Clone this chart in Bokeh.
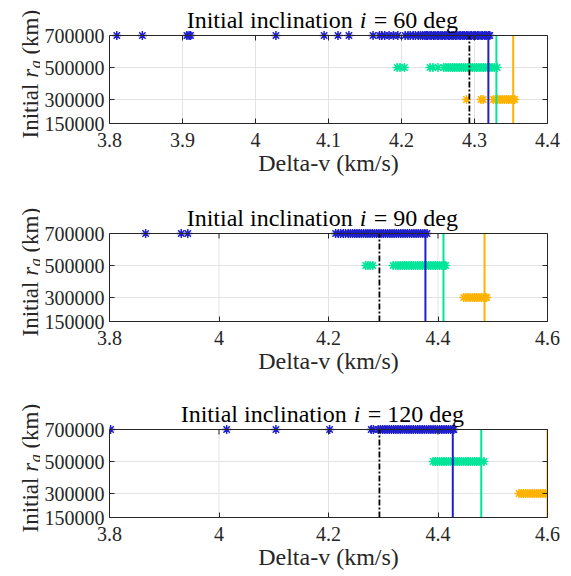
import math
from bokeh.plotting import figure
from bokeh.models import Range1d, FixedTicker, LinearAxis, Label
from bokeh.layouts import column, row
from bokeh.embed import file_html
from bokeh.resources import INLINE

# ---------------- data ----------------
r_levels = [700000, 500000, 300000]          # initial r_a (km) for blue, green, orange
y_ticks = [150000, 300000, 500000, 700000]
y_tick_labels = ["150000", "300000", "500000", "700000"]
y_min, y_max = 150000, 700000
x_min = 3.8

x_ticks_60 = [3.8, 3.9, 4.0, 4.1, 4.2, 4.3, 4.4]
x_tick_labels_60 = ["3.8", "3.9", "4", "4.1", "4.2", "4.3", "4.4"]
x_ticks_wide = [3.8, 4.0, 4.2, 4.4, 4.6]
x_tick_labels_wide = ["3.8", "4", "4.2", "4.4", "4.6"]

inclinations = ["60", "90", "120"]
dv_ref = 4.293   # black dash-dot reference

# i = 60 deg
dv60_blue = [3.810, 3.845, 3.906, 3.909, 3.911, 4.028, 4.094, 4.113, 4.128, 4.161,
             4.170, 4.173, 4.177, 4.183, 4.189, 4.195, 4.205, 4.209, 4.212, 4.216,
             4.219, 4.223, 4.226, 4.229, 4.232, 4.234, 4.236, 4.239, 4.241, 4.244,
             4.246, 4.249, 4.251, 4.254, 4.256, 4.259, 4.261, 4.264, 4.266, 4.269,
             4.271, 4.274, 4.276, 4.279, 4.281, 4.284, 4.286, 4.289, 4.291, 4.294,
             4.296, 4.299, 4.301, 4.304, 4.306, 4.309, 4.311, 4.314, 4.316, 4.319, 4.321]
dv60_green = [4.194, 4.198, 4.204, 4.239, 4.243, 4.250, 4.258, 4.261, 4.264, 4.267,
              4.270, 4.273, 4.276, 4.279, 4.282, 4.285, 4.288, 4.291, 4.294, 4.297,
              4.300, 4.303, 4.306, 4.309, 4.312, 4.315, 4.318, 4.321, 4.324, 4.327, 4.331]
dv60_orange = [4.289, 4.309, 4.312, 4.326, 4.329, 4.332, 4.335, 4.338, 4.341, 4.344,
               4.347, 4.350, 4.353, 4.355]
vlines_60 = [4.319, 4.330, 4.353]

# i = 90 deg
dv90_blue = [3.866, 3.931, 3.943, 4.213, 4.218, 4.222, 4.227, 4.231, 4.236, 4.240,
             4.244, 4.248, 4.252, 4.256, 4.260, 4.264, 4.268, 4.272, 4.276, 4.280,
             4.284, 4.288, 4.292, 4.296, 4.300, 4.304, 4.308, 4.312, 4.316, 4.320,
             4.324, 4.328, 4.332, 4.336, 4.340, 4.344, 4.348, 4.352, 4.356, 4.360,
             4.364, 4.368, 4.372, 4.376, 4.380]
dv90_green = [4.268, 4.272, 4.276, 4.281, 4.318, 4.323, 4.327, 4.331, 4.335, 4.339,
              4.343, 4.347, 4.351, 4.355, 4.359, 4.363, 4.367, 4.371, 4.375, 4.379,
              4.383, 4.387, 4.391, 4.395, 4.399, 4.403, 4.407, 4.411, 4.414]
dv90_orange = [4.447, 4.451, 4.455, 4.459, 4.463, 4.467, 4.471, 4.475, 4.479, 4.483,
               4.487, 4.489]
vlines_90 = [4.377, 4.410, 4.485]

# i = 120 deg
dv120_blue = [3.802, 4.014, 4.104, 4.202, 4.278, 4.282, 4.291, 4.295, 4.299, 4.303,
              4.307, 4.311, 4.315, 4.319, 4.323, 4.327, 4.331, 4.335, 4.339, 4.343,
              4.347, 4.351, 4.355, 4.359, 4.363, 4.367, 4.371, 4.375, 4.379, 4.383,
              4.387, 4.391, 4.395, 4.399, 4.403, 4.407, 4.411, 4.415, 4.419, 4.423,
              4.427, 4.429]
dv120_green = [4.391, 4.395, 4.399, 4.403, 4.407, 4.411, 4.415, 4.419, 4.423, 4.427,
               4.431, 4.435, 4.439, 4.443, 4.447, 4.451, 4.455, 4.459, 4.463, 4.467,
               4.471, 4.475, 4.479, 4.484]
dv120_orange = [4.548, 4.552, 4.556, 4.560, 4.564, 4.568, 4.572, 4.576, 4.580, 4.584,
                4.588, 4.592, 4.596, 4.600, 4.605]
vlines_120 = [4.427, 4.479, 4.600]

# ---------------- style ----------------
FONT = "Liberation Serif"
BLUE, GREEN, ORANGE = "#1f1fcc", "#00e699", "#ffb300"
AX = "#262626"
GRID = "#e3e3e3"
TITLE_PX = 24
LAB_PX = 23
SUB_PX = 16
BOX_H = 88          # pixel height of the axes box
TICK = 5            # inward tick length in px
LAB_W = 40          # width of the strip holding the rotated y labels
TOTAL_H = 576

panel_heights = [196, 197, 183]
panel_box_tops = [35, 37, 36]
panel_bottoms = [73, 72, 59]


def make_ylabel_strip():
    """Tall narrow strip holding the three rotated labels 'Initial r_a (km)'."""
    s = figure(width=LAB_W, height=TOTAL_H, x_range=Range1d(0, 1), y_range=Range1d(0, 1),
               output_backend="svg", toolbar_location=None,
               x_axis_location=None, y_axis_location=None,
               min_border=0, min_border_left=0, min_border_right=0,
               min_border_top=0, min_border_bottom=0)
    s.outline_line_color = None
    s.grid.visible = False
    bx = 30
    rot = dict(x_units="screen", y_units="screen", text_font=FONT, angle=math.pi / 2,
               text_color=AX, text_baseline="alphabetic", text_align="left")
    top = 0
    for h, bt in zip(panel_heights, panel_box_tops):
        ys = TOTAL_H - (top + bt + BOX_H + 15)
        s.add_layout(Label(x=bx, y=ys, text="Initial", text_font_size=f"{LAB_PX}px", **rot))
        y_r = ys + 2.389 * LAB_PX + 0.25 * LAB_PX
        s.add_layout(Label(x=bx, y=y_r, text="r", text_font_size=f"{LAB_PX}px",
                           text_font_style="italic", **rot))
        y_a = y_r + 0.389 * LAB_PX + 0.5
        s.add_layout(Label(x=bx + 5, y=y_a, text="a", text_font_size=f"{SUB_PX}px",
                           text_font_style="italic", **rot))
        y_km = y_a + 0.5 * SUB_PX + 0.25 * LAB_PX
        s.add_layout(Label(x=bx, y=y_km, text="(km)", text_font_size=f"{LAB_PX}px", **rot))
        top += h
    return s


def make_panel(incl, series, vlines, xmax, xticks, xlabels, height, box_top, bottom):
    # the frame reaches up to the top of the figure so that the title and the
    # markers on the top edge are not clipped; the axes box is drawn inside it
    frame_h = box_top + BOX_H
    per_px = (y_max - y_min) / BOX_H
    y_top = y_min + frame_h * per_px
    p = figure(width=571 - LAB_W, height=height,
               x_range=Range1d(x_min, xmax), y_range=Range1d(y_min, y_top),
               output_backend="svg", toolbar_location=None,
               min_border_left=109 - LAB_W, min_border_right=24,
               min_border_top=0, min_border_bottom=bottom,
               background_fill_color="white", border_fill_color="white")
    p.outline_line_color = None

    # axes
    p.xaxis.ticker = FixedTicker(ticks=xticks)
    p.xaxis.major_label_overrides = dict(zip(xticks, xlabels))
    p.yaxis.ticker = FixedTicker(ticks=y_ticks)
    p.yaxis.major_label_overrides = dict(zip(y_ticks, y_tick_labels))
    p.yaxis.bounds = (y_min, y_max)
    for ax in (p.xaxis, p.yaxis):
        ax.major_tick_in = TICK
        ax.major_tick_out = 0
        ax.minor_tick_line_color = None
        ax.axis_line_color = AX
        ax.major_tick_line_color = AX
        ax.major_label_text_font = FONT
        ax.major_label_text_font_size = "20px"
        ax.major_label_text_color = AX
    p.xaxis.major_label_standoff = 9
    p.yaxis.major_label_standoff = 5
    p.xaxis.axis_label = "Delta-v (km/s)"
    p.xaxis.axis_label_text_font = FONT
    p.xaxis.axis_label_text_font_size = "24px"
    p.xaxis.axis_label_text_font_style = "normal"
    p.xaxis.axis_label_text_color = AX
    p.xaxis.axis_label_standoff = 0

    # mirrored ticks on the right
    ax = LinearAxis(ticker=FixedTicker(ticks=y_ticks), bounds=(y_min, y_max),
                    major_label_text_font_size="0px",
                    major_label_overrides={t: "" for t in y_ticks},
                    major_tick_in=TICK, major_tick_out=0, major_label_standoff=0,
                    minor_tick_line_color=None, axis_line_color=AX,
                    major_tick_line_color=AX)
    p.add_layout(ax, "right")

    # grid
    p.xgrid.visible = False
    p.ygrid.ticker = FixedTicker(ticks=y_ticks[1:-1])
    p.ygrid.grid_line_color = GRID
    inner = xticks[1:-1]
    p.segment(x0=inner, y0=[y_min] * len(inner), x1=inner, y1=[y_max] * len(inner),
              line_color=GRID, line_width=1)

    # points
    for dv, r, col in zip(series, r_levels, (BLUE, GREEN, ORANGE)):
        p.scatter(x=dv, y=[r] * len(dv), marker="asterisk", size=9,
                  line_color=col, line_width=1.5)

    # vertical lines
    p.segment(x0=[dv_ref], y0=[y_min], x1=[dv_ref], y1=[y_max], line_color="black",
              line_width=1.8, line_dash="6 2 2 2")
    p.segment(x0=vlines, y0=[y_min] * 3, x1=vlines, y1=[y_max] * 3,
              line_color=[BLUE, GREEN, ORANGE], line_width=2)

    # top edge of the box and its inward ticks
    p.segment(x0=[x_min], y0=[y_max], x1=[xmax], y1=[y_max], line_color=AX, line_width=1)
    p.segment(x0=inner, y0=[y_max] * len(inner), x1=inner,
              y1=[y_max - TICK * per_px] * len(inner), line_color=AX, line_width=1)

    # title: "Initial inclination i = NN deg" (italic i)
    em = TITLE_PX
    w_left = 6.897 * em
    w_i = 0.278 * em
    w_right = (3.008 + 0.5 * len(incl)) * em
    gap = 0.3 * em
    total = w_left + gap + w_i + gap + w_right
    x0 = 219 - total / 2
    ty = BOX_H + 16
    common = dict(x_units="screen", y_units="screen", text_font=FONT,
                  text_font_size=f"{TITLE_PX}px", text_color="black",
                  text_baseline="alphabetic")
    p.add_layout(Label(x=x0 + w_left, y=ty, text="Initial inclination",
                       text_align="right", **common))
    p.add_layout(Label(x=x0 + w_left + gap, y=ty, text="i", text_align="left",
                       text_font_style="italic", **common))
    p.add_layout(Label(x=x0 + w_left + 2 * gap + w_i, y=ty, text=f"= {incl} deg",
                       text_align="left", **common))
    return p


p1 = make_panel(inclinations[0], (dv60_blue, dv60_green, dv60_orange), vlines_60,
                4.4, x_ticks_60, x_tick_labels_60,
                panel_heights[0], panel_box_tops[0], panel_bottoms[0])
p2 = make_panel(inclinations[1], (dv90_blue, dv90_green, dv90_orange), vlines_90,
                4.6, x_ticks_wide, x_tick_labels_wide,
                panel_heights[1], panel_box_tops[1], panel_bottoms[1])
p3 = make_panel(inclinations[2], (dv120_blue, dv120_green, dv120_orange), vlines_120,
                4.6, x_ticks_wide, x_tick_labels_wide,
                panel_heights[2], panel_box_tops[2], panel_bottoms[2])

layout = row(make_ylabel_strip(), column(p1, p2, p3, spacing=0), spacing=0)
open("out.html", "w").write(file_html(layout, INLINE))
